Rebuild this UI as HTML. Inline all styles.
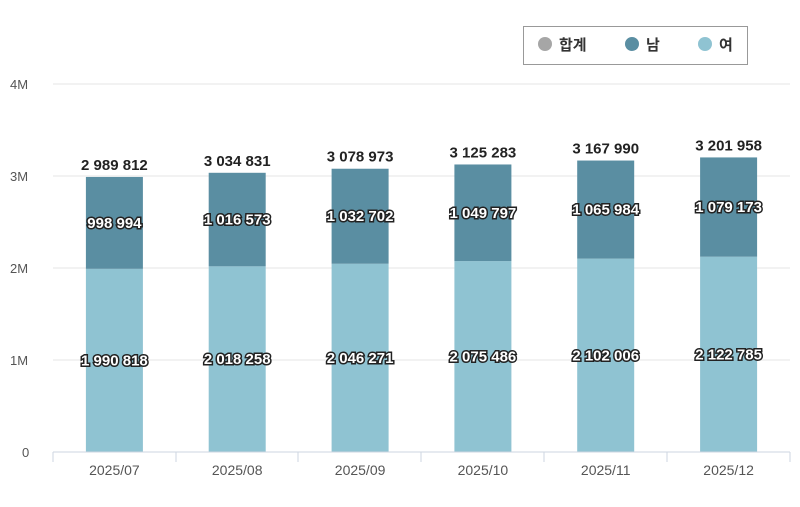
<!DOCTYPE html>
<html><head><meta charset="utf-8"><style>
body{margin:0;background:#fff;}
svg text{font-family:"Liberation Sans","Noto Sans CJK KR",sans-serif;}
.seg{font-size:15px;font-weight:bold;fill:#fff;stroke:#222;stroke-width:3px;paint-order:stroke;text-anchor:middle;}
.tot{font-size:15px;font-weight:bold;fill:#222;text-anchor:middle;}
.ax{font-size:13px;fill:#555;}
.xl{font-size:14px;fill:#555;text-anchor:middle;}
</style></head><body>
<svg width="800" height="502" xmlns="http://www.w3.org/2000/svg">
<rect width="800" height="502" fill="#fff"/>
<g stroke="#e6e6e6" stroke-width="1">
<line x1="53" x2="790" y1="84" y2="84"/>
<line x1="53" x2="790" y1="176" y2="176"/>
<line x1="53" x2="790" y1="268" y2="268"/>
<line x1="53" x2="790" y1="360" y2="360"/>
</g>
<g class="ax">
<text x="10" y="89">4M</text>
<text x="10" y="181">3M</text>
<text x="10" y="273">2M</text>
<text x="10" y="365">1M</text>
<text x="22" y="457">0</text>
</g>
<g fill="#8fc3d2">
<rect x="85.9" y="268.85" width="57" height="183.15"/>
<rect x="208.7" y="266.32" width="57" height="185.68"/>
<rect x="331.6" y="263.74" width="57" height="188.26"/>
<rect x="454.4" y="261.06" width="57" height="190.94"/>
<rect x="577.2" y="258.61" width="57" height="193.39"/>
<rect x="700.1" y="256.70" width="57" height="195.30"/>
</g>
<g fill="#5a8ea2">
<rect x="85.9" y="176.94" width="57" height="91.91"/>
<rect x="208.7" y="172.79" width="57" height="93.53"/>
<rect x="331.6" y="168.73" width="57" height="95.01"/>
<rect x="454.4" y="164.47" width="57" height="96.59"/>
<rect x="577.2" y="160.54" width="57" height="98.07"/>
<rect x="700.1" y="157.42" width="57" height="99.28"/>
</g>
<g class="tot">
<text x="114.4" y="169.9">2 989 812</text>
<text x="237.2" y="165.8">3 034 831</text>
<text x="360.1" y="161.7">3 078 973</text>
<text x="482.9" y="157.5">3 125 283</text>
<text x="605.7" y="153.5">3 167 990</text>
<text x="728.6" y="150.4">3 201 958</text>
</g>
<g class="seg">
<text x="114.4" y="227.9">998 994</text>
<text x="237.2" y="224.6">1 016 573</text>
<text x="360.1" y="221.2">1 032 702</text>
<text x="482.9" y="217.8">1 049 797</text>
<text x="605.7" y="214.6">1 065 984</text>
<text x="728.6" y="212.1">1 079 173</text>
<text x="114.4" y="365.4">1 990 818</text>
<text x="237.2" y="364.2">2 018 258</text>
<text x="360.1" y="362.9">2 046 271</text>
<text x="482.9" y="361.5">2 075 486</text>
<text x="605.7" y="360.3">2 102 006</text>
<text x="728.6" y="359.4">2 122 785</text>
</g>
<line x1="53" x2="790" y1="452" y2="452" stroke="#cdd5e0"/>
<g stroke="#cdd5e0">
<line x1="53" x2="53" y1="452" y2="462"/><line x1="176" x2="176" y1="452" y2="462"/>
<line x1="298" x2="298" y1="452" y2="462"/><line x1="421" x2="421" y1="452" y2="462"/>
<line x1="544" x2="544" y1="452" y2="462"/><line x1="667" x2="667" y1="452" y2="462"/>
<line x1="790" x2="790" y1="452" y2="462"/>
</g>
<g class="xl">
<text x="114.4" y="475">2025/07</text>
<text x="237.2" y="475">2025/08</text>
<text x="360.1" y="475">2025/09</text>
<text x="482.9" y="475">2025/10</text>
<text x="605.7" y="475">2025/11</text>
<text x="728.6" y="475">2025/12</text>
</g>
<rect x="523.5" y="26.5" width="224" height="38" fill="#fff" stroke="#999"/>
<circle cx="545" cy="44" r="7" fill="#a6a6a6"/><text x="559" y="50" font-size="15" font-weight="bold" fill="#333">합계</text>
<circle cx="632" cy="44" r="7" fill="#5a8ea2"/><text x="646" y="50" font-size="15" font-weight="bold" fill="#333">남</text>
<circle cx="705" cy="44" r="7" fill="#8fc3d2"/><text x="719" y="50" font-size="15" font-weight="bold" fill="#333">여</text>
</svg>
</body></html>
